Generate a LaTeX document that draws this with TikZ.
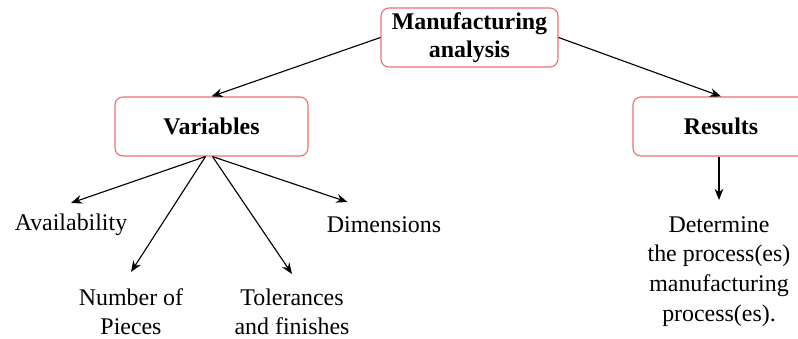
\documentclass[tikz,border=0pt]{standalone}
\usepackage{fontspec}
\setmainfont{Liberation Serif}
\newfontfamily\tnrfont{Liberation Serif}
\usetikzlibrary{calc, positioning, arrows.meta}
\definecolor{boxred}{RGB}{236,112,108}
\tikzset{
  box/.style={draw=boxred, line width=0.8pt, rounded corners=0.2cm, align=center,
    minimum height=1.475cm, inner sep=0pt, font=\tnrfont\fontsize{17}{20}\selectfont\bfseries},
  lbl/.style={align=center, inner sep=0pt, outer xsep=0pt, anchor=north,
    font=\tnrfont\fontsize{17}{21}\selectfont},
  arr/.style={-{Stealth[length=2.8mm,width=2.2mm]}, line width=0.8pt}
}

\begin{document}
\begin{tikzpicture}[x=0.025cm, y=-0.025cm]
\useasboundingbox (0,0) rectangle (798,339);
\clip (0,0) rectangle (798,339);
	% Top and second level
\node [box, minimum width=4.425cm] (man) at (469.5,37.5) {Manufacturing\\analysis};
\node [box, minimum width=4.825cm] (var) at (211.5,126.5) {Variables};
\node [box, minimum width=4.4cm] (res) at (721,126.5) {Results};
\draw [arr] (man.west) -- (var.north);
\draw [arr] (man.east) -- (res.north);

	% Variables
\node [lbl, outer ysep=7.5pt] (avail) at (71,203) {Availability};
\node [lbl, outer ysep=11.8pt] (pieces) at (131,272) {Number of\\Pieces};
\node [lbl, outer ysep=10.4pt] (toler) at (292,274) {Tolerances\\and finishes};
\node [lbl, outer ysep=10.3pt] (dim) at (384,202) {Dimensions};
\draw [arr] ($(var.south)+(-6,0)$) -- (avail.north);
\draw [arr] ($(var.south)+(-6,0)$) -- (pieces.north);
\draw [arr] ($(var.south)+(1,0)$) -- (toler.north);
\draw [arr] ($(var.south)+(1,0)$) -- ($(dim.north west)!0.18!(dim.north east)$);

	% Results
\node [lbl, outer ysep=11.8pt] (determ) at (719,200) {Determine\\the process(es)\\manufacturing\\process(es).};
\draw [arr] (res.south -| determ.north) -- (determ.north);
\end{tikzpicture}
\end{document}
